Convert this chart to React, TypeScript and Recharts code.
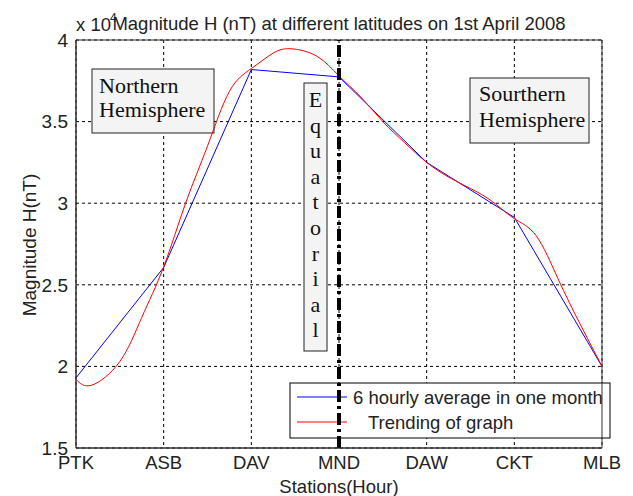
import {
    CartesianGrid,
    ComposedChart,
    Line,
    ReferenceArea,
    ReferenceLine,
    XAxis,
    YAxis
} from "recharts";

// stations along the x axis, index = position
const stations = ["PTK", "ASB", "DAV", "MND", "DAW", "CKT", "MLB"];
const stationPos = [0, 1, 2, 3, 4, 5, 6];

// values are in units of 10^4 nT
const hourlyAverage = [1.93, 2.606, 3.819, 3.774, 3.25, 2.913, 2.0];

// trend curve
const trendPos = [0, 0.18, 0.5, 0.75, 1, 1.25, 1.5, 1.75, 2, 2.25, 2.46, 2.75, 3, 3.25, 3.5, 3.75, 4, 4.25, 4.5, 4.75, 5, 5.25, 5.5, 5.75, 6];
const trendH = [1.92, 1.885, 2.03, 2.3, 2.61, 3.0, 3.35, 3.685, 3.825, 3.92, 3.946, 3.9, 3.78, 3.65, 3.5, 3.37, 3.25, 3.16, 3.09, 3.01, 2.905, 2.8, 2.535, 2.26, 2.0];

const yTicks = [1.5, 2, 2.5, 3, 3.5, 4];

const averageData = stationPos.map((x, i) => ({ x, avg: hourlyAverage[i] }));
const trendData = trendPos.map((x, i) => ({ x, trend: trendH[i] }));

const sans = "Arial, 'Liberation Sans', sans-serif";
const serif = "'Times New Roman', 'Liberation Serif', serif";

const NoteBox = ({ x, y, w, h, lines, lineGap, baseline, textX }: any) => (
    <g>
        <rect x={x} y={y} width={w} height={h} fill="#f4f4f4" stroke="#222" strokeWidth={1} />
        {lines.map((t: string, i: number) => (
            <text key={t} x={textX} y={baseline + i * lineGap} fontFamily={serif} fontSize={22} fill="#111">
                {t}
            </text>
        ))}
    </g>
);

const Equatorial = () => {
    const letters = "Equatorial".split("");
    return (
        <g>
            <rect x={304} y={83} width={23} height={268} fill="#f4f4f4" stroke="#222" strokeWidth={1} />
            {letters.map((c, i) => (
                <text key={i} x={315.5} y={107 + i * 25.6} textAnchor="middle" fontFamily={serif} fontSize={22} fill="#111">
                    {c}
                </text>
            ))}
        </g>
    );
};

const LegendBox = () => (
    <g>
        <rect x={290} y={383} width={320} height={55} fill="#fff" stroke="#000" strokeWidth={1} />
        <line x1={297} x2={347} y1={397} y2={397} stroke="#0000ff" strokeWidth={1} />
        <line x1={297} x2={347} y1={422} y2={422} stroke="#ff0000" strokeWidth={1} />
        <text x={353} y={404} fontFamily={sans} fontSize={18.5} fill="#222">6 hourly average in one month</text>
        <text x={368} y={429} fontFamily={sans} fontSize={18.5} fill="#222">Trending of graph</text>
    </g>
);

const Labels = () => (
    <g fontFamily={sans} fill="#222">
        <text x={339} y={30} textAnchor="middle" fontSize={18.5}>
            Magnitude H (nT) at different latitudes on 1st April 2008
        </text>
        <text x={76} y={31} fontSize={18.5}>x 10</text>
        <text x={110} y={22} fontSize={12}>4</text>
        <text x={339} y={493} textAnchor="middle" fontSize={18.5}>Stations(Hour)</text>
        <text x={0} y={0} transform="translate(36,245) rotate(-90)" textAnchor="middle" fontSize={19}>
            Magnitude H(nT)
        </text>
    </g>
);

const App = () => {
    return (
        <div style={{ position: "absolute", left: 0, top: 0, width: 633, height: 496, background: "#fff" }}>
            <ComposedChart width={633} height={496} margin={{ top: 40, right: 31, left: 0, bottom: 0 }}>
                <CartesianGrid stroke="#000" strokeDasharray="3 3" />
                <XAxis
                    dataKey="x"
                    type="number"
                    domain={[0, 6]}
                    ticks={stationPos}
                    height={48}
                    tickFormatter={(v) => stations[v]}
                    tickLine={false}
                    axisLine={{ stroke: "#333" }}
                    tick={{ fill: "#222", fontSize: 18.5, fontFamily: sans }}
                    allowDuplicatedCategory={false}
                />
                <YAxis
                    type="number"
                    domain={[1.5, 4]}
                    ticks={yTicks}
                    width={76}
                    tickLine={false}
                    axisLine={{ stroke: "#333" }}
                    tick={{ fill: "#222", fontSize: 19, fontFamily: sans }}
                />
                <ReferenceArea x1={0} x2={6} y1={1.5} y2={4} fill="none" stroke="#333" strokeWidth={1} ifOverflow="visible" />
                <NoteBox x={92} y={69} w={122} h={64} lines={["Northern", "Hemisphere"]} lineGap={24.5} baseline={92.5} textX={99} />
                <NoteBox x={470} y={78} w={119} h={65} lines={["Sourthern", "Hemisphere"]} lineGap={25.5} baseline={101} textX={479} />
                <Equatorial />
                <Line
                    data={averageData}
                    dataKey="avg"
                    type="linear"
                    stroke="#0000ff"
                    strokeWidth={1}
                    dot={false}
                    isAnimationActive={false}
                />
                <Line
                    data={trendData}
                    dataKey="trend"
                    type="natural"
                    stroke="#ff0000"
                    strokeWidth={1}
                    dot={false}
                    isAnimationActive={false}
                />
                <LegendBox />
                <ReferenceLine x={3} stroke="#000" strokeWidth={4} strokeDasharray="12 4 3 4" />
                <Labels />
            </ComposedChart>
        </div>
    );
};

export default App;
